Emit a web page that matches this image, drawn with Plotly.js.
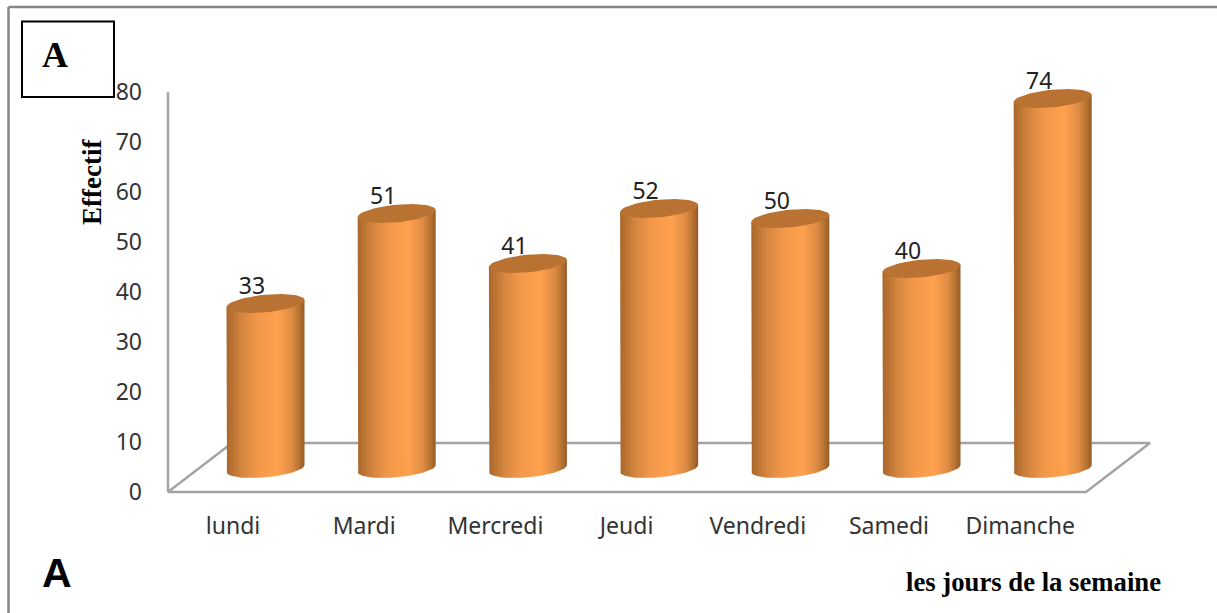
<!DOCTYPE html>
<html>
<head>
<meta charset="utf-8">
<script src="https://cdn.plot.ly/plotly-3.0.1.min.js"></script>
<style>html,body{margin:0;padding:0;background:#fff}</style>
</head>
<body>
<div id="plot" style="width:1217px;height:613px"></div>
<script>
const categories = ['lundi', 'Mardi', 'Mercredi', 'Jeudi', 'Vendredi', 'Samedi', 'Dimanche'];
const effectifs = [33, 51, 41, 52, 50, 40, 74];
const yTicks = [0, 10, 20, 30, 40, 50, 60, 70, 80];

const W = 1217, H = 613;
const step = 131.2;  // px between two categories
const unit = 5;      // px per one effectif
// y=0 sits at 492px, x=0 at 233px. The plot area is a bit larger than the
// axes so that the lids and lines are not clipped.
const yZero = 492, xZero = 233;
const left = 160, right = 1156, top_ = 72, bottom = 497;

// fake 3D: everything is set back from the axis by this much
const barShiftX = 32.5 / step;
const barLift = 23.5 / unit;
const radiusX = 39 / step;
const radiusY = 8.8 / unit;
const tilt = 3.5 / unit;
const floorDepth = 49 / unit;

const toX = p => (p - xZero) / step;
const xMin = toX(left), xMax = toX(right);
const yMin = (yZero - bottom) / unit, yMax = (yZero - top_) / unit;
const axisX = toX(168);

const gradient = [
  [0, '#a8672b'], [0.07, '#b97232'], [0.2, '#d58640'], [0.4, '#f29849'],
  [0.66, '#ffa14e'], [0.84, '#dd8b44'], [0.94, '#b37130'], [1, '#945a27']
];

function ellipsePoints(cx, cy, from, to, n) {
  const xs = [], ys = [];
  for (let k = 0; k <= n; k++) {
    const t = from + (to - from) * k / n;
    xs.push(cx + radiusX * Math.cos(t));
    ys.push(cy + radiusY * Math.sin(t) + tilt * Math.cos(t));
  }
  return { xs, ys };
}

const traces = [];

// value axis line and floor of the 3D box
traces.push({
  x: [axisX, axisX, toX(232), toX(1150), toX(1086), axisX],
  y: [80, 0, floorDepth, floorDepth, 0, 0],
  mode: 'lines',
  line: { color: '#a3a3a3', width: 2.4 },
  hoverinfo: 'skip',
  showlegend: false
});

// one body + one lid per cylinder
effectifs.forEach((v, i) => {
  const cx = i + barShiftX;
  const lid = v + barLift;
  const arc = ellipsePoints(cx, barLift, Math.PI, 2 * Math.PI, 40);
  traces.push({
    x: [cx - radiusX].concat(arc.xs, [cx + radiusX, cx - radiusX]),
    y: [lid - tilt].concat(arc.ys, [lid + tilt, lid - tilt]),
    mode: 'lines',
    line: { width: 0 },
    fill: 'toself',
    fillgradient: { type: 'horizontal', colorscale: gradient },
    hoverinfo: 'skip',
    showlegend: false
  });
  const top = ellipsePoints(cx, lid, 0, 2 * Math.PI, 60);
  traces.push({
    x: top.xs,
    y: top.ys,
    mode: 'lines',
    line: { width: 0 },
    fill: 'toself',
    fillcolor: '#b97232',
    hoverinfo: 'skip',
    showlegend: false
  });
});

// value labels
traces.push({
  x: categories.map((c, i) => i + barShiftX - 13.5 / step),
  y: effectifs.map(v => v + barLift + 15.5 / unit),
  text: effectifs.map(String),
  mode: 'text',
  textposition: 'middle center',
  textfont: { family: 'Noto Sans, sans-serif', size: 23, color: '#222' },
  cliponaxis: false,
  hoverinfo: 'skip',
  showlegend: false
});

const px = x => (x - left) / (right - left);
const py = y => (bottom - y) / (bottom - top_);
const note = (x, y, text, family, size, extra) => Object.assign({
  xref: 'paper', yref: 'paper', x: px(x), y: py(y), xanchor: 'center', yanchor: 'middle',
  text: text, showarrow: false, font: { family: family, size: size, color: '#000' }
}, extra);

const layout = {
  width: W,
  height: H,
  autosize: false,
  margin: { l: left, r: W - right, t: top_, b: H - bottom, pad: 0 },
  paper_bgcolor: '#fff',
  plot_bgcolor: 'rgba(0,0,0,0)',
  showlegend: false,
  hovermode: false,
  font: { family: 'Noto Sans, sans-serif', color: '#333' },
  xaxis: {
    range: [xMin, xMax],
    tickmode: 'array',
    tickvals: categories.map((c, i) => i),
    ticktext: categories,
    tickfont: { size: 23, color: '#333' },
    ticks: '',
    ticklabelstandoff: 13,
    showgrid: false,
    zeroline: false,
    showline: false
  },
  yaxis: {
    range: [yMin, yMax],
    tickmode: 'array',
    tickvals: yTicks,
    tickfont: { size: 23, color: '#333' },
    ticks: '',
    ticklabelstandoff: 17,
    showgrid: false,
    zeroline: false,
    showline: false
  },
  shapes: [
    // outer frame, only top and left show in the crop
    { type: 'line', xref: 'paper', yref: 'paper', x0: px(8.5), x1: px(W), y0: py(7), y1: py(7),
      line: { color: '#868686', width: 2.5 } },
    { type: 'line', xref: 'paper', yref: 'paper', x0: px(8.5), x1: px(8.5), y0: py(7), y1: py(H),
      line: { color: '#868686', width: 2.5 } },
    // box round the panel letter
    { type: 'rect', xref: 'paper', yref: 'paper', x0: px(22), x1: px(114), y0: py(21.5), y1: py(97),
      fillcolor: '#fff', line: { color: '#000', width: 2 } }
  ],
  annotations: [
    note(55, 55, '<b>A</b>', 'Liberation Serif, serif', 36),
    note(57, 573, '<b>A</b>', 'Liberation Sans, sans-serif', 41),
    note(92, 182, '<b>Effectif</b>', 'Liberation Serif, serif', 27, { textangle: -90 }),
    note(1033, 582, '<b>les jours de la semaine</b>', 'Liberation Serif, serif', 26.7)
  ]
};

Plotly.newPlot('plot', traces, layout, { displayModeBar: false, staticPlot: true });
</script>
</body>
</html>
